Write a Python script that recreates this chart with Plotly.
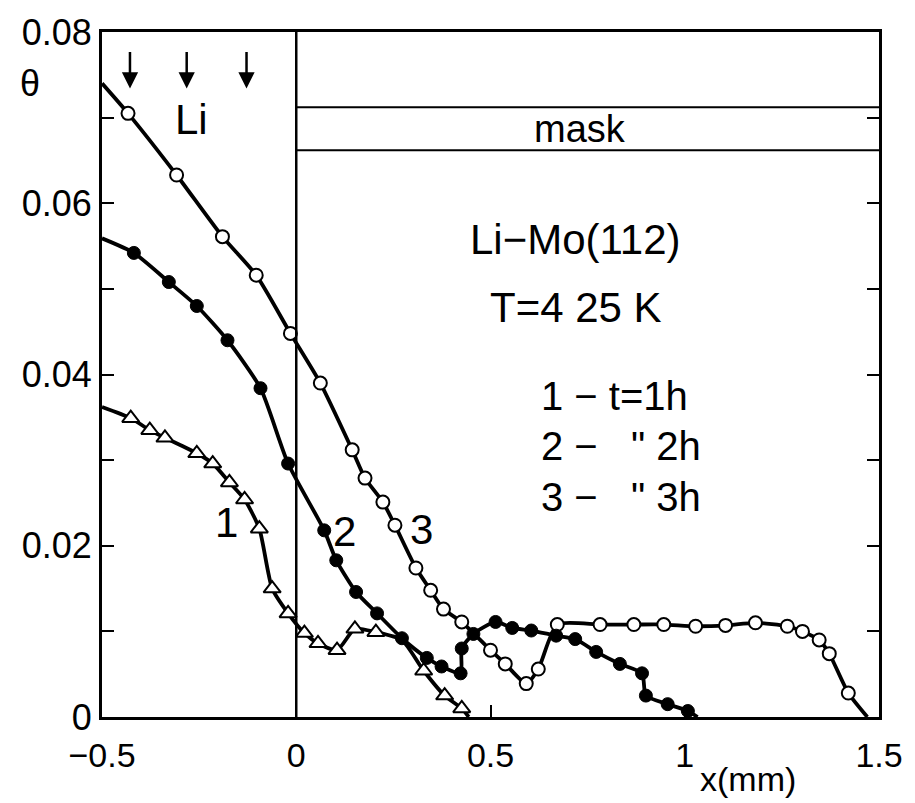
import plotly.graph_objects as go

# Series 3 (open circles), t = 3 h
s3_x = [-0.433, -0.308, -0.190, -0.103, -0.015, 0.062, 0.144, 0.177, 0.223, 0.254,
        0.308, 0.346, 0.379, 0.426, 0.500, 0.538, 0.592, 0.623, 0.672, 0.782,
        0.869, 0.946, 1.028, 1.105, 1.182, 1.264, 1.303, 1.346, 1.372, 1.421]
s3_y = [0.0705, 0.0633, 0.0561, 0.0516, 0.0448, 0.0390, 0.0312, 0.0279, 0.0251, 0.0224,
        0.0174, 0.0148, 0.0126, 0.0111, 0.0078, 0.0062, 0.0039, 0.0056, 0.0108, 0.0108,
        0.0108, 0.0108, 0.0106, 0.0107, 0.0110, 0.0106, 0.0100, 0.0090, 0.0074, 0.0028]
s3_start = (-0.5, 0.0740)
s3_end = (1.47, 0.0)

# Series 2 (filled circles), t = 2 h
s2_x = [-0.418, -0.328, -0.256, -0.177, -0.092, -0.021, 0.072, 0.103, 0.154, 0.208,
        0.272, 0.336, 0.374, 0.423, 0.426, 0.456, 0.513, 0.556, 0.605, 0.669,
        0.718, 0.772, 0.833, 0.890, 0.900, 0.956, 1.008]
s2_y = [0.0542, 0.0508, 0.0480, 0.0440, 0.0384, 0.0296, 0.0218, 0.0183, 0.0146, 0.0121,
        0.0092, 0.0069, 0.0059, 0.0051, 0.0080, 0.0097, 0.0111, 0.0104, 0.0101, 0.0095,
        0.0091, 0.0076, 0.0062, 0.0051, 0.0025, 0.0015, 0.0007]
s2_start = (-0.5, 0.0559)
s2_end = (1.033, 0.0)

# Series 1 (open triangles), t = 1 h
s1_x = [-0.426, -0.377, -0.338, -0.256, -0.215, -0.172, -0.133, -0.095, -0.062, -0.021,
        0.021, 0.056, 0.105, 0.151, 0.205, 0.328, 0.382, 0.426]
s1_y = [0.0349, 0.0335, 0.0326, 0.0308, 0.0296, 0.0274, 0.0254, 0.0220, 0.0150, 0.0121,
        0.0098, 0.0086, 0.0078, 0.0103, 0.0099, 0.0054, 0.0025, 0.0010]
s1_start = (-0.5, 0.0362)
s1_end = (0.444, 0.0)
s1_path_x = [0.272]   # where curve 1 runs along curve 2
s1_path_y = [0.0090]

arrow_x = [-0.428, -0.282, -0.128]
arrow_tip_y = 0.0734
mask_y = [0.0712, 0.0662]

x_ticks = [-0.5, 0, 0.5, 1, 1.5]
x_ticktext = ["\u22120.5", "0", "0.5", "1", "1.5"]
y_ticks = [0, 0.01, 0.02, 0.03, 0.04, 0.05, 0.06, 0.07, 0.08]
y_ticktext = ["0", "", "0.02", "", "0.04", "", "0.06", "", "0.08"]

FONT = "Liberation Sans"
LW = 3.8

# plot-area pixel geometry (for paper-referenced texts)
L, R, T, B = 102, 884, 23, 717

def px_to_paper(px, py):
    return (px - L) / (R - L), (B - py) / (B - T)

def merge(sx, sy, px=(), py=()):
    pts = sorted(zip(list(sx) + list(px), list(sy) + list(py)))
    return [p[0] for p in pts], [p[1] for p in pts]

fig = go.Figure()

for start, xs, ys, end, px, py in [
    (s3_start, s3_x, s3_y, s3_end, [], []),
    (s2_start, s2_x, s2_y, s2_end, [], []),
    (s1_start, s1_x, s1_y, s1_end, s1_path_x, s1_path_y),
]:
    mx, my = merge(xs, ys, px, py)
    fig.add_trace(go.Scatter(
        x=[start[0]] + mx + [end[0]], y=[start[1]] + my + [end[1]],
        mode="lines", line=dict(color="black", width=LW, shape="spline", smoothing=0.6),
        showlegend=False, hoverinfo="skip"))

fig.add_trace(go.Scatter(x=s3_x, y=s3_y, mode="markers",
    marker=dict(symbol="circle", size=13, color="white", line=dict(color="black", width=2)),
    showlegend=False))
fig.add_trace(go.Scatter(x=s2_x, y=s2_y, mode="markers",
    marker=dict(symbol="circle", size=13, color="black", line=dict(color="black", width=1)),
    showlegend=False))
fig.add_trace(go.Scatter(x=s1_x, y=s1_y, mode="markers",
    marker=dict(symbol="triangle-up", size=15, color="white", line=dict(color="black", width=2)),
    showlegend=False))

shapes = [dict(type="line", xref="x", yref="y", x0=0, x1=0, y0=0, y1=0.08,
               line=dict(color="black", width=2.5))]
for my_ in mask_y:
    shapes.append(dict(type="line", xref="x", yref="y", x0=0, x1=1.5, y0=my_, y1=my_,
                       line=dict(color="black", width=2)))

annotations = []
for ax_ in arrow_x:
    annotations.append(dict(x=ax_, y=arrow_tip_y, xref="x", yref="y", ax=0, ay=-38,
                            showarrow=True, arrowhead=2, arrowsize=1.3, arrowwidth=2.5,
                            arrowcolor="black", text=""))

def txt(x, y, s, size=40, xanchor="center", xref="x", yref="y"):
    annotations.append(dict(x=x, y=y, xref=xref, yref=yref, text=s, showarrow=False,
                            xanchor=xanchor, yanchor="middle",
                            font=dict(family=FONT, size=size, color="black")))

txt(-0.27, 0.0698, "Li", 42)
txt(0.73, 0.0687, "mask", 38)
txt(0.72, 0.0558, "Li\u2212Mo(112)", 42)
txt(0.72, 0.0478, "T=4 25 K", 42)
txt(0.625, 0.0375, "1 \u2212 t=1h", 40, "left")
txt(0.625, 0.0316, "2 \u2212   \" 2h", 40, "left")
txt(0.625, 0.0257, "3 \u2212   \" 3h", 40, "left")
txt(-0.179, 0.0227, "1", 42)
txt(0.123, 0.0217, "2", 42)
txt(0.323, 0.0219, "3", 42)

tx, ty = px_to_paper(30, 75)
txt(tx, ty, "\u03b8", 36, xref="paper", yref="paper")
mx_, my_ = px_to_paper(752, 780)
txt(mx_, my_, "x(mm)", 34, xref="paper", yref="paper")

fig.update_layout(
    width=915, height=803,
    margin=dict(l=L, r=915 - R, t=T, b=803 - B),
    paper_bgcolor="white", plot_bgcolor="white",
    shapes=shapes, annotations=annotations,
    xaxis=dict(range=[-0.5, 1.5], tickvals=x_ticks, ticktext=x_ticktext,
               ticks="inside", ticklen=12, tickwidth=2, tickcolor="black",
               showline=True, linecolor="black", linewidth=3, mirror=True,
               showgrid=False, zeroline=False, ticklabelstandoff=6,
               tickfont=dict(family=FONT, size=34, color="black")),
    yaxis=dict(range=[0, 0.08], tickvals=y_ticks, ticktext=y_ticktext,
               ticks="inside", ticklen=12, tickwidth=2, tickcolor="black",
               showline=True, linecolor="black", linewidth=3, mirror="ticks",
               showgrid=False, zeroline=False,
               tickfont=dict(family=FONT, size=36, color="black")),
)

fig.write_html("out.html")
